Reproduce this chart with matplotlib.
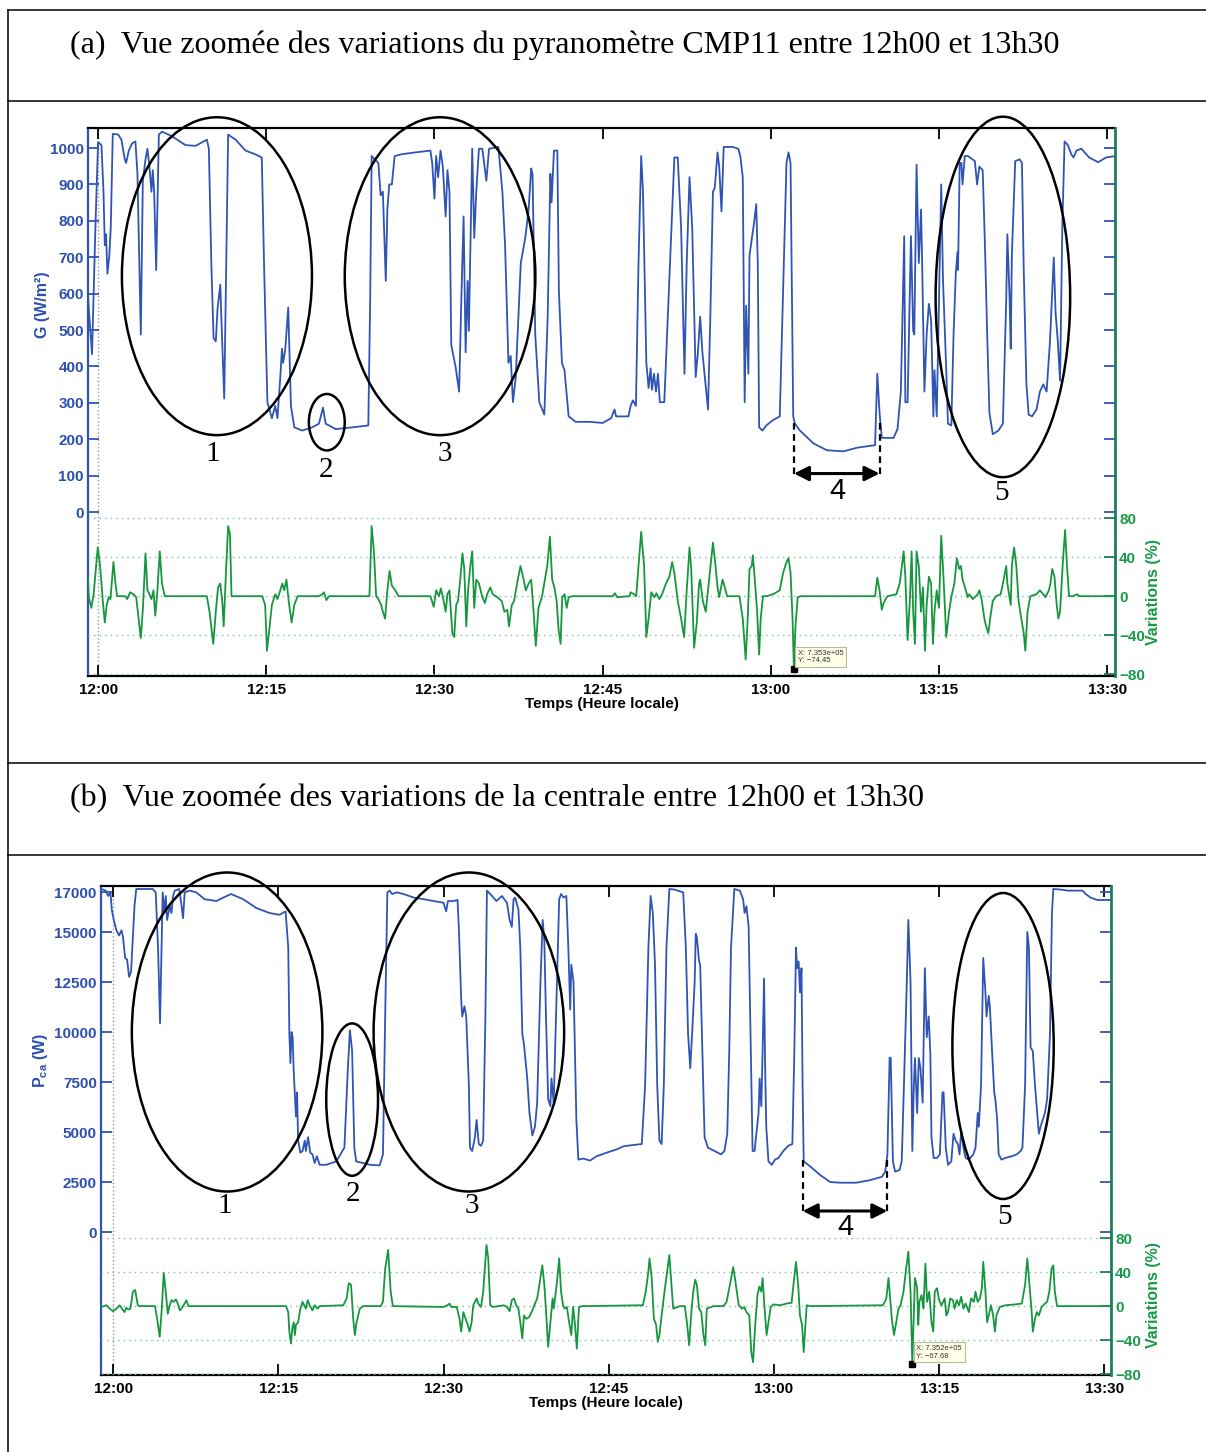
import matplotlib
matplotlib.use("Agg")
import matplotlib.pyplot as plt
from matplotlib.patches import Ellipse

plt.rcParams['font.family'] = ['Liberation Sans', 'DejaVu Sans']
plt.rcParams['mathtext.fontset'] = 'custom'
plt.rcParams['mathtext.rm'] = 'Liberation Sans:bold'
plt.rcParams['mathtext.bf'] = 'Liberation Sans:bold'
plt.rcParams['mathtext.it'] = 'Liberation Sans:bold'

# ---- données : temps en minutes après 12h00 ----
x_ticks = [0, 15, 30, 45, 60, 75, 90]
x_ticklabels = ["12:00", "12:15", "12:30", "12:45", "13:00", "13:15", "13:30"]
var_ticks = [-80, -40, 0, 40, 80]

# (a) pyranomètre CMP11, G (W/m²)
t_a_G = [-0.9, -0.83, -0.54, -0.24, 0.0, 0.3, 0.48, 0.6, 0.71, 0.83, 1.0, 1.13, 1.31, 1.79, 2.08, 2.38, 2.5,
         2.74, 3.04, 3.33, 3.51, 3.81, 3.99, 4.23, 4.4, 4.58, 4.76, 4.88, 5.0, 5.18, 5.42, 5.71, 6.6, 7.8,
         8.7, 9.7, 9.88, 10.1, 10.3, 10.5, 10.65, 10.9, 11.0, 11.25, 11.6, 12.26, 13.15, 14.0, 14.6, 14.8,
         15.1, 15.5, 15.8, 16.0, 16.25, 16.4, 16.5, 16.7, 16.96, 17.2, 17.5, 18.2, 19.1, 19.7, 20.06, 20.3,
         21.2, 22.7, 24.1, 24.27, 24.4, 24.66, 25.0, 25.2, 25.4, 25.66, 25.8, 25.97, 26.2, 26.45, 27.1,
         28.3, 29.64, 29.8, 30.0, 30.15, 30.33, 30.54, 30.75, 31.0, 31.16, 31.34, 31.5, 31.88, 32.2, 32.4,
         32.6, 32.78, 32.96, 33.07, 33.37, 33.55, 33.73, 33.97, 34.27, 34.63, 34.87, 35.7, 36.06, 36.3,
         36.6, 36.8, 37.0, 37.25, 37.7, 38.1, 38.4, 38.63, 38.75, 38.99, 39.35, 39.8, 40.1, 40.34, 40.45,
         40.66, 40.96, 41.1, 41.37, 41.6, 41.97, 42.6, 43.8, 45.0, 45.76, 46.06, 46.2, 47.3, 47.5, 47.7,
         47.97, 48.2, 48.44, 48.6, 48.9, 49.1, 49.28, 49.4, 49.58, 49.76, 49.94, 50.1, 50.5, 50.95, 51.4,
         51.7, 52.0, 52.3, 52.5, 52.75, 52.99, 53.3, 53.5, 53.7, 53.9, 54.4, 54.6, 54.84, 55.0, 55.25,
         55.4, 55.6, 55.8, 56.6, 57.1, 57.28, 57.5, 57.67, 57.8, 58.0, 58.1, 58.36, 58.5, 58.7, 58.84,
         58.96, 59.25, 59.6, 60.2, 60.8, 61.1, 61.4, 61.58, 61.76, 62.0, 62.15, 62.6, 63.8, 65.0, 66.5,
         67.7, 69.3, 69.5, 69.7, 69.9, 70.95, 71.3, 71.6, 71.9, 72.0, 72.2, 72.5, 72.7, 72.8, 73.0, 73.2,
         73.4, 73.5, 73.7, 73.9, 74.1, 74.3, 74.5, 74.6, 74.8, 75.0, 75.2, 75.36, 75.65, 75.8, 76.1, 76.3,
         76.5, 76.65, 76.7, 76.85, 77.0, 77.1, 77.3, 77.6, 78.2, 78.4, 78.6, 78.9, 79.1, 79.3, 79.5, 79.8,
         80.3, 80.7, 81.0, 81.1, 81.3, 81.4, 81.5, 81.8, 82.2, 82.4, 82.56, 82.8, 83.0, 83.3, 83.7, 84.0,
         84.3, 84.6, 84.9, 85.1, 85.24, 85.4, 85.6, 85.8, 86.0, 86.2, 86.5, 86.8, 87.0, 87.26, 87.7, 88.4,
         89.2, 89.9, 90.7]
G_a = [600, 557, 434, 782, 1016, 1008, 880, 733, 763, 655, 704, 782, 1039, 1037, 1023, 969, 959,
       993, 1013, 1018, 929, 488, 910, 969, 998, 949, 880, 939, 880, 665, 1037, 1045, 1032, 1008,
       1006, 1023, 998, 684, 478, 469, 557, 625, 527, 312, 1037, 1023, 993, 983, 974, 684,
       302, 258, 292, 258, 370, 449, 410, 449, 562, 292, 233, 224, 233, 243, 287, 243,
       228, 233, 238, 586, 978, 969, 959, 870, 880, 635, 831, 900, 900, 978, 983,
       988, 993, 959, 861, 978, 920, 993, 949, 812, 939, 880, 459, 400, 331, 586,
       812, 439, 635, 498, 998, 753, 880, 998, 998, 910, 998, 1003, 880, 733,
       410, 429, 302, 370, 684, 753, 831, 944, 929, 488, 302, 268, 537, 929, 851,
       993, 993, 606, 410, 390, 263, 248, 248, 245, 258, 282, 263, 263, 292, 307,
       292, 684, 978, 880, 410, 341, 395, 336, 380, 331, 380, 302, 302, 635, 974,
       974, 782, 380, 684, 920, 782, 371, 439, 537, 439, 282, 527, 880, 890, 988,
       949, 826, 1003, 1003, 998, 978, 920, 302, 567, 380, 704, 763, 792, 846, 684,
       233, 224, 238, 253, 263, 606, 959, 988, 959, 263, 243, 224, 189, 170, 167,
       177, 184, 380, 273, 204, 204, 228, 331, 758, 302, 302, 758, 498, 488, 954, 684,
       831, 684, 331, 488, 572, 527, 263, 390, 263, 586, 900, 635, 390, 243, 238, 488,
       655, 714, 665, 959, 959, 900, 978, 978, 964, 900, 949, 939, 733, 488, 273, 214,
       224, 243, 586, 763, 586, 449, 704, 964, 969, 959, 665, 351, 268, 263, 282, 331,
       351, 331, 469, 606, 699, 547, 469, 361, 782, 1018, 1008, 983, 974, 993, 998, 974,
       961, 974, 978]

# (a) variations (%)
t_a_V = [-0.9, -0.83, -0.6, -0.4, -0.03, 0.18, 0.42, 0.6, 0.77, 0.95, 1.1, 1.37, 1.55, 1.7, 2.44, 2.6,
         2.86, 3.15, 3.4, 3.81, 4.0, 4.23, 4.4, 4.58, 4.76, 4.94, 5.1, 5.27, 5.5, 5.7, 5.95, 9.7, 9.94,
         10.27, 10.5, 10.7, 10.9, 11.07, 11.2, 11.43, 11.6, 11.76, 11.9, 14.64, 14.9, 15.06, 15.3, 15.5,
         15.8, 16.0, 16.25, 16.43, 16.6, 16.8, 17.0, 17.26, 17.5, 17.8, 19.7, 20.0, 20.15, 20.36, 20.6,
         24.2, 24.4, 24.6, 24.8, 25.0, 25.25, 25.4, 25.6, 25.8, 26.0, 26.2, 26.5, 26.8, 29.64, 29.94,
         30.15, 30.4, 30.57, 30.75, 31.0, 31.16, 31.34, 31.6, 31.76, 31.94, 32.1, 32.3, 32.5, 32.66,
         32.84, 33.0, 33.2, 33.37, 33.55, 33.73, 33.97, 34.27, 34.5, 34.7, 34.98, 35.2, 35.6, 36.0,
         36.24, 36.5, 36.65, 36.9, 37.1, 37.37, 37.67, 37.9, 38.15, 38.4, 38.63, 38.8, 39.04, 39.28,
         39.6, 40.06, 40.3, 40.5, 40.7, 40.9, 41.07, 41.25, 41.4, 41.6, 41.8, 41.97, 42.3, 45.9, 46.1,
         46.3, 47.4, 47.5, 47.8, 48.0, 48.2, 48.44, 48.7, 48.9, 49.1, 49.34, 49.6, 49.8, 50.06, 50.3,
         50.65, 50.95, 51.2, 51.4, 51.7, 52.0, 52.27, 52.5, 52.75, 52.9, 53.16, 53.4, 53.6, 53.7, 53.94,
         54.2, 54.4, 54.6, 54.84, 55.07, 55.25, 55.4, 55.7, 55.9, 56.1, 57.2, 57.5, 57.76, 57.94, 58.1,
         58.3, 58.4, 58.6, 58.78, 58.96, 59.1, 59.3, 59.6, 60.2, 60.8, 61.1, 61.4, 61.58, 61.76, 61.94,
         62.06, 62.2, 62.4, 62.7, 69.3, 69.5, 69.7, 69.9, 70.06, 70.4, 71.2, 71.5, 71.85, 72.0, 72.2,
         72.4, 72.56, 72.7, 72.86, 73.0, 73.2, 73.4, 73.57, 73.75, 73.9, 74.1, 74.3, 74.46, 74.6, 74.8,
         75.0, 75.2, 75.4, 75.65, 75.9, 76.1, 76.37, 76.6, 76.8, 76.96, 77.1, 77.4, 77.56, 77.7, 78.0,
         78.2, 78.45, 78.6, 78.8, 79.05, 79.2, 79.4, 79.6, 79.8, 80.1, 80.5, 80.7, 81.0, 81.1, 81.4,
         81.5, 81.7, 81.9, 82.1, 82.3, 82.56, 82.7, 82.9, 83.15, 83.7, 84.0, 84.3, 84.5, 84.8, 84.94,
         85.1, 85.3, 85.5, 85.65, 85.8, 86.07, 86.25, 86.4, 86.6, 86.96, 87.3, 87.56, 90.7]
V_a = [20, -1, -12, 2, 50, 31, -5, -27, -9, -1, -3, 35, 13, 0, 0, -3,
       4, 2, -1, -43, -12, 44, 6, 2, -3, 6, -20, 2, 46, 13, 0, 0, -16,
       -49, -16, 9, 13, -5, -31, 31, 72, 64, 0, 0, -9, -56, -31, -9,
       2, -3, 6, 13, 6, 17, -5, -27, -9, 0, 0, 2, 4, -4, 0,
       0, 72, 46, 0, -3, -9, -16, -23, 6, 26, 11, 6, 0, 0, -11,
       6, 0, 8, -1, -16, 2, 6, -38, -42, -9, -5, 17, 44, 28,
       -31, 6, 31, 46, -12, 17, 13, -1, -7, 2, 9, 2, -1, -5,
       -16, -14, -31, -9, -5, 13, 31, 20, 6, 13, 17, -9, -51, -12,
       0, 31, 61, 17, 9, -5, -34, -49, -1, 2, -12, -1, 0, 0, 3,
       -1, 0, 4, 2, 0, 31, 66, 31, -42, -23, 4, -1, 3, -3, 2,
       13, 20, 35, 24, -5, -23, -42, 6, 50, 28, -53, -27, 13, 17, -5,
       -16, 6, 28, 55, 31, 9, -1, 17, 9, 0, 0, -23, -65, -23, 28,
       31, 42, 13, -16, -60, -23, 0, 0, 2, 6, 24, 35, 39, 24, -23,
       -74.45, -31, -1, 0, 0, 19, 6, -14, -7, 0, 2, 13, 46, 20, -45,
       -5, 46, -16, -49, 46, 31, -16, 9, -56, -9, 20, 13, -49, -16, 6,
       -12, 62, 20, -42, -16, -1, 13, 39, 28, 31, 17, 6, -1, 2, -3,
       -1, 2, 6, -3, -23, -31, -38, -20, -5, 0, 2, 13, 31, 13, -9,
       31, 50, 31, -5, -20, -38, -56, -16, 0, 2, 6, 2, -1, 6, 13,
       28, 20, -9, -23, -16, 39, 68, 35, 0, 0, 2, 0, 0]

# (b) centrale, Pca (W)
t_b_P = [-1.05, -0.67, -0.45, -0.24, -0.12, 0.06, 0.3, 0.54, 0.76, 0.9, 1.09, 1.27, 1.45, 1.63, 1.94, 2.1,
         3.6, 3.87, 4.08, 4.26, 4.4, 4.5, 4.66, 4.78, 4.9, 5.14, 5.3, 5.44, 5.6, 6.0, 6.2, 6.35, 6.5,
         6.95, 7.56, 8.3, 9.37, 10.0, 10.7, 11.8, 13.0, 14.2, 15.1, 15.66, 15.9, 16.0, 16.1, 16.2, 16.3,
         16.4, 16.6, 16.7, 16.8, 17.0, 17.2, 17.4, 17.5, 17.7, 17.9, 18.1, 18.3, 18.5, 18.75, 19.35,
         20.26, 21.0, 21.3, 21.5, 21.7, 21.9, 22.07, 22.7, 23.3, 24.2, 24.5, 24.7, 24.9, 25.1, 25.33,
         25.76, 26.36, 27.3, 28.2, 29.1, 30.0, 30.24, 30.4, 30.9, 31.27, 31.4, 31.6, 31.7, 31.9, 32.06,
         32.3, 32.4, 32.6, 32.85, 33.0, 33.2, 33.4, 33.6, 33.8, 33.94, 34.24, 34.8, 35.3, 35.76, 36.0,
         36.2, 36.36, 36.5, 36.8, 36.97, 37.15, 37.3, 37.6, 37.8, 38.06, 38.3, 38.5, 38.8, 39.0, 39.15,
         39.3, 39.5, 39.7, 39.8, 40.0, 40.3, 40.5, 40.67, 40.9, 41.15, 41.33, 41.5, 41.6, 41.8, 42.06,
         42.24, 42.7, 43.3, 43.9, 44.8, 45.76, 46.36, 48.0, 48.3, 48.6, 48.8, 49.0, 49.2, 49.4, 49.6,
         49.8, 50.0, 50.24, 50.5, 51.0, 51.76, 52.0, 52.2, 52.4, 52.6, 52.8, 52.9, 53.0, 53.2, 53.3,
         53.5, 53.7, 54.0, 54.6, 55.2, 55.5, 55.76, 55.94, 56.1, 56.4, 56.9, 57.2, 57.33, 57.5, 57.7,
         57.9, 58.06, 58.24, 58.4, 58.6, 58.7, 58.85, 58.97, 59.1, 59.2, 59.3, 59.5, 59.8, 60.1, 60.4,
         60.85, 61.3, 61.67, 61.85, 62.0, 62.1, 62.24, 62.36, 62.5, 62.6, 62.7, 63.3, 64.2, 65.1, 66.0,
         67.5, 68.7, 69.8, 70.1, 70.3, 70.5, 70.6, 70.8, 71.0, 71.4, 71.6, 71.8, 72.06, 72.2, 72.4,
         72.56, 72.7, 72.8, 72.9, 73.0, 73.15, 73.3, 73.5, 73.7, 73.87, 74.05, 74.2, 74.3, 74.5, 74.8,
         75.06, 75.3, 75.4, 75.6, 75.8, 76.1, 76.3, 76.5, 76.7, 76.85, 77.0, 77.2, 77.4, 77.7, 78.1,
         78.3, 78.5, 78.6, 78.8, 79.0, 79.2, 79.3, 79.5, 79.6, 79.8, 80.0, 80.1, 80.27, 80.4, 80.65,
         81.0, 81.6, 82.05, 82.4, 82.56, 82.8, 83.0, 83.15, 83.3, 83.5, 83.7, 83.9, 84.05, 84.2, 84.4,
         84.6, 84.8, 85.06, 85.24, 85.36, 86.07, 86.67, 88.0, 88.3, 88.75, 89.35, 90.6]
P_b = [17150, 17070, 16800, 16980, 16120, 15600, 15085, 14826, 15085, 14740, 13706, 13620, 12758, 13016, 16290, 17150,
       17150, 16980, 14220, 10430, 14220, 16980, 15950, 16800, 15600, 16290, 15950, 16800, 17070, 17150, 16380, 15690, 16980,
       17070, 16980, 16640, 16550, 16720, 16900, 16640, 16200, 15950, 15860, 16030, 14220, 9913, 8450, 10000, 9740,
       8017, 5775, 6980, 4570, 3965, 4050, 4570, 4050, 4740, 3965, 3880, 3450, 3790, 3360, 3360,
       3530, 4220, 8017, 10085, 9050, 4220, 3530, 3450, 3360, 3330, 3880, 10775, 16980, 17070, 16900,
       16980, 16900, 16720, 16640, 16550, 16460, 16030, 16550, 16550, 16600, 15085, 11640, 10775, 11290, 10775,
       7330, 4220, 4050, 4740, 5600, 4400, 4310, 4570, 10775, 17070, 16900, 16550, 16800, 16460, 15600,
       15260, 16640, 16720, 16120, 14220, 9913, 9400, 7675, 5950, 4830, 5260, 6465, 12500, 15600, 14570,
       10775, 6640, 6290, 7675, 6465, 12500, 16640, 16900, 16720, 16800, 14220, 11120, 13360, 12500, 5600,
       3620, 3670, 3570, 3790, 3965, 4140, 4290, 4400, 7330, 14220, 16800, 15950, 13360, 7330, 4570,
       4400, 7330, 14220, 17150, 17120, 16980, 14220, 9913, 8190, 10260, 12500, 14910, 14740, 13530, 13360,
       9050, 4740, 4220, 4050, 3880, 4050, 4910, 9050, 14220, 17150, 17070, 16640, 15950, 16290, 15260,
       9050, 4050, 4050, 4910, 5950, 7670, 6290, 9050, 12670, 8190, 5260, 3530, 3360, 3620, 3700,
       4050, 4310, 4400, 9050, 14220, 13190, 13530, 11980, 13190, 7330, 3530, 3275, 2845, 2500, 2465,
       2465, 2590, 2760, 3020, 3880, 8710, 8710, 3530, 3020, 3100, 3530, 7330, 12500, 15600, 12500,
       4050, 7330, 8700, 7330, 5950, 8700, 8190, 6465, 13190, 9740, 10775, 8880, 4740, 3700, 3700,
       3880, 6980, 6980, 4220, 3360, 3530, 4910, 4570, 4400, 3880, 5085, 4220, 3700, 3620, 3880,
       4220, 5950, 5260, 7330, 13700, 11980, 10775, 11810, 11290, 9050, 6980, 6640, 5600, 3880, 3620,
       3700, 3790, 3880, 4050, 4220, 7330, 15000, 14220, 9225, 9050, 7330, 5950, 4910, 5260, 5600,
       5950, 6640, 9913, 15950, 17150, 17120, 17070, 17070, 16900, 16720, 16600, 16600]

# (b) variations (%)
t_b_V = [-1.05, -0.6, -0.3, 0.0, 0.3, 0.6, 0.8, 1.03, 1.2, 1.4, 1.57, 1.8, 2.0, 2.24, 2.4, 3.8, 4.0, 4.23,
         4.4, 4.6, 4.78, 4.96, 5.14, 5.3, 5.5, 5.7, 5.87, 6.05, 6.2, 6.4, 6.65, 6.83, 15.7, 15.9, 16.0,
         16.15, 16.27, 16.4, 16.5, 16.6, 16.8, 17.0, 17.2, 17.5, 17.66, 17.84, 18.1, 18.3, 18.57, 18.75,
         20.9, 21.2, 21.4, 21.6, 21.8, 21.95, 22.1, 22.4, 22.7, 24.3, 24.5, 24.7, 24.97, 25.2, 25.4, 30.0,
         30.36, 30.55, 30.7, 31.2, 31.45, 31.6, 31.8, 32.0, 32.2, 32.36, 32.55, 32.7, 33.0, 33.15, 33.4,
         33.6, 33.9, 34.06, 34.24, 34.5, 35.45, 35.76, 36.0, 36.2, 36.4, 36.6, 36.8, 36.97, 37.15, 37.3,
         37.5, 37.76, 38.0, 38.24, 38.5, 38.7, 38.97, 39.15, 39.33, 39.5, 39.7, 39.9, 40.0, 40.2, 40.36,
         40.5, 40.67, 40.85, 41.0, 41.2, 41.4, 41.6, 41.76, 41.94, 42.1, 42.3, 42.6, 48.1, 48.36, 48.6,
         48.7, 48.9, 49.1, 49.3, 49.45, 49.6, 49.8, 50.06, 50.3, 50.5, 50.7, 50.85, 51.45, 51.9, 52.1,
         52.3, 52.5, 52.67, 52.85, 53.0, 53.2, 53.4, 53.6, 53.76, 53.9, 54.5, 55.4, 55.7, 56.0, 56.3,
         56.5, 56.8, 57.1, 57.3, 57.5, 57.76, 57.94, 58.1, 58.3, 58.5, 58.67, 58.85, 58.97, 59.15, 59.33,
         59.5, 59.7, 59.94, 60.55, 61.15, 61.6, 61.8, 62.0, 62.2, 62.36, 62.55, 62.7, 62.97, 63.3, 69.9,
         70.2, 70.4, 70.5, 70.7, 70.9, 71.1, 71.3, 71.5, 71.76, 72.0, 72.2, 72.4, 72.56, 72.8, 73.0,
         73.1, 73.2, 73.4, 73.57, 73.75, 73.9, 74.1, 74.3, 74.46, 74.6, 74.8, 75.0, 75.2, 75.36, 75.5,
         75.65, 75.8, 76.0, 76.25, 76.4, 76.6, 76.8, 77.0, 77.2, 77.4, 77.7, 77.9, 78.15, 78.3, 78.5,
         78.7, 78.87, 79.0, 79.2, 79.35, 79.5, 79.7, 79.9, 80.06, 80.2, 80.5, 81.0, 81.9, 82.5, 82.8,
         83.0, 83.2, 83.4, 83.5, 83.7, 83.87, 84.05, 84.3, 84.6, 84.8, 85.0, 85.2, 85.36, 85.5, 85.7,
         90.6]
V_b = [-1, 1, -3, -6, -3, 1, -3, -7, -2, -4, -3, 17, 19, 1, 0, 0, -15, -36,
       -7, 39, 17, -9, 1, 7, 5, 8, 3, -5, -3, 1, 7, 0, 0, -7, -30,
       -44, -26, -19, -34, -22, -19, -3, 5, -3, 7, 1, -5, 1, -3, 0,
       1, 9, 27, 25, -15, -34, -19, -3, 0, 0, 5, 44, 66, 17, 0, -1,
       1, 3, -1, -1, -15, -30, -7, -15, -22, -30, -19, 1, 9, 3, -1,
       17, 72, 56, 1, -1, 1, -1, -6, 7, 9, 1, -3, -19, -38, -11,
       -15, -13, -7, 1, 9, 25, 48, 25, -11, -48, -19, 9, -3, 17, 37,
       56, 17, 1, -3, -1, -19, -34, -1, -22, -50, -1, 0, 1, 17, 41,
       56, 33, -15, -22, -42, -34, -11, 17, 41, 60, 25, -3, 0, 0, -19,
       -46, -7, 17, 31, 25, -3, -7, -34, -46, -3, 0, 0, 5, 25, 46,
       29, 1, -3, -1, -7, -11, -54, -66, -22, 13, 23, 17, 33, -3, -34,
       -19, -1, 2, 1, 3, 4, 29, 52, 25, -11, -22, -54, 1, 0, 1,
       9, 33, 17, -15, -34, -19, -3, 1, 17, 44, 64, 17, -67.68, 33, 21,
       -22, 5, 13, -3, 50, 5, 17, -19, -30, 17, 21, 7, 1, 5, 9,
       -11, -7, 9, 7, -3, 7, 1, 11, -3, 3, -7, 9, 5, 17, 5,
       9, 21, 52, 17, -19, -11, 1, -11, -30, -11, -1, 1, 2, 3, 25,
       56, 25, -7, -30, -15, -7, -11, -1, 3, 5, 17, 44, 48, 17, 0,
       0]

BLUE = "#2f54b3"
BLUE_TXT = "#2c50ad"
GREEN = "#16973f"
GREEN_TXT = "#1a9a48"
GREEN_AX = "#1d7e5c"


def draw_panel(rect, xlim, ylim1, yticks1, ylabels1, ylab1, t1, y1, ylim2, t2, y2,
               lab1_pos, lab2_pos, xlab_pad):
    ax = fig.add_axes(rect)
    ax.plot(t1, y1, color=BLUE, lw=1.3, zorder=3, solid_joinstyle="round")
    ax.axvline(0, color="#9a9a9a", ls=":", lw=1.0, zorder=1)
    ax.set_xlim(*xlim)
    ax.set_ylim(*ylim1)
    ax.set_yticks(yticks1)
    ax.set_yticklabels(ylabels1)
    ax.set_xticks(x_ticks)
    ax.set_xticklabels(x_ticklabels)
    ax.set_xlabel("Temps (Heure locale)", fontsize=11, fontweight="bold", labelpad=xlab_pad)
    ax.set_ylabel(ylab1, fontsize=11.5, fontweight="bold", color=BLUE_TXT)
    ax.yaxis.set_label_coords(*lab1_pos)

    ax2 = ax.twinx()
    ax2.plot(t2, y2, color=GREEN, lw=1.3, zorder=3, solid_joinstyle="round")
    ax2.set_ylim(*ylim2)
    ax2.set_yticks(var_ticks)
    ax2.yaxis.grid(True, ls=(0, (1, 3)), color="#7fbda8", lw=1.0)
    ax2.set_ylabel("Variations (%)", fontsize=11.5, fontweight="bold", color=GREEN_TXT)
    ax2.yaxis.set_label_coords(*lab2_pos)

    ax.yaxis.set_ticks_position("both")
    ax.tick_params(axis="y", direction="in", length=8, width=1.3, colors=BLUE, labelcolor=BLUE_TXT,
                   labelsize=11, pad=3)
    ax.tick_params(axis="x", direction="in", length=8, width=1.3, top=True, labelsize=11, pad=5)
    ax2.tick_params(axis="y", direction="in", length=8, width=1.3, colors=GREEN_AX,
                    labelcolor=GREEN_TXT, labelsize=11, pad=3)
    for lab in ax.get_xticklabels() + ax.get_yticklabels() + ax2.get_yticklabels():
        lab.set_fontweight("bold")

    for name, sp in ax.spines.items():
        sp.set_linewidth(1.6)
        sp.set_color("k")
    ax.spines["left"].set_color(BLUE)
    ax.spines["right"].set_visible(False)
    for name in ["left", "top", "bottom"]:
        ax2.spines[name].set_visible(False)
    ax2.spines["right"].set_color(GREEN_AX)
    ax2.spines["right"].set_linewidth(2.0)
    return ax, ax2


def ring(ax, cx, cy, w, h, label, lx, ly):
    ax.add_patch(Ellipse((cx, cy), w, h, fill=False, ec="k", lw=1.8, clip_on=False, zorder=6))
    ax.text(lx, ly, label, fontsize=21, family=["Liberation Serif"], ha="center", va="center", zorder=6)


def bracket(ax, ta, tb, y_top, y_bot, y_arrow, lx, ly):
    for tt in (ta, tb):
        ax.plot([tt, tt], [y_top, y_bot], color="k", ls=(0, (3, 2)), lw=1.6, zorder=6)
    ax.annotate("", xy=(tb, y_arrow), xytext=(ta, y_arrow),
                arrowprops=dict(arrowstyle="<|-|>", color="k", lw=2.2, mutation_scale=22,
                                shrinkA=0, shrinkB=0), zorder=6)
    ax.text(lx, ly, "4", fontsize=21, family=["Liberation Sans"], ha="center", va="center", zorder=6)


def tip(ax2, tx, ty, txt):
    ax2.plot([tx], [ty], marker="s", color="k", ms=4, zorder=7, clip_on=False)
    ax2.annotate(txt, xy=(tx, ty), xytext=(3, 3), textcoords="offset points", fontsize=5.5,
                 ha="left", va="bottom", color="#333333", linespacing=1.1, zorder=7,
                 bbox=dict(boxstyle="square,pad=0.35", fc="#ffffe8", ec="#b8b8a0", lw=0.8))


fig = plt.figure(figsize=(12.06, 14.52), dpi=100)

# cadre du tableau
frame = fig.add_axes([0, 0, 1, 1])
frame.set_xlim(0, 1206)
frame.set_ylim(1452, 0)
frame.axis("off")
for yy in [10, 101, 763, 855]:
    frame.plot([8, 1206], [yy, yy], color="k", lw=1.1)
frame.plot([8, 8], [10, 1452], color="k", lw=1.1)
frame.text(70, 45, "(a)  Vue zoomée des variations du pyranomètre CMP11 entre 12h00 et 13h30",
           fontsize=23, family=["Liberation Serif"], va="center", ha="left")
frame.text(70, 799, "(b)  Vue zoomée des variations de la centrale entre 12h00 et 13h30",
           fontsize=23, family=["Liberation Serif"], va="center", ha="left")

# ---- (a) ----
G_ticks = list(range(0, 1001, 100))
ax_a, ax_a2 = draw_panel([88 / 1206, 1 - 676 / 1452, 1027 / 1206, 548 / 1452], (-0.9, 90.7),
                         (-450, 1055), G_ticks, [str(v) for v in G_ticks], "G (W/m²)",
                         t_a_G, G_a, (-82, 481), t_a_V, V_a, (-0.037, 0.677), (1.030, 0.153), 0)
ring(ax_a, 10.6, 648, 16.95, 873, "1", 10.2, 160)
ring(ax_a, 20.4, 247, 3.2, 155, "2", 20.3, 115)
ring(ax_a, 30.5, 648, 17.0, 873, "3", 30.9, 160)
ring(ax_a, 80.7, 591, 12.0, 990, "5", 80.6, 53)
bracket(ax_a, 62.06, 69.7, 245, 93, 106, 65.9, 57)
tip(ax_a2, 62.06, -74.45, "X: 7.353e+05\nY: \u221274.45")

# ---- (b) ----
P_ticks = [0, 2500, 5000, 7500, 10000, 12500, 15000, 17000]
ax_b, ax_b2 = draw_panel([101 / 1206, 1 - 1375 / 1452, 1010 / 1206, 489 / 1452], (-1.1, 90.6),
                         (-7150, 17300), P_ticks, [str(v) for v in P_ticks], r"P$_{\mathbf{ca}}$ (W)",
                         t_b_P, P_b, (-81, 494), t_b_V, V_b, (-0.050, 0.644), (1.035, 0.164), 0)
ring(ax_b, 10.35, 10000, 17.3, 15950, "1", 10.1, 1300)
ring(ax_b, 21.7, 6620, 4.7, 7620, "2", 21.8, 1900)
ring(ax_b, 32.3, 10000, 17.3, 15950, "3", 32.6, 1300)
ring(ax_b, 80.8, 9300, 9.2, 15300, "5", 80.9, 750)
bracket(ax_b, 62.6, 70.3, 3620, 850, 1050, 66.45, 250)
tip(ax_b2, 72.56, -67.68, "X: 7.352e+05\nY: \u221267.68")

plt.savefig("out.png", dpi=100)
